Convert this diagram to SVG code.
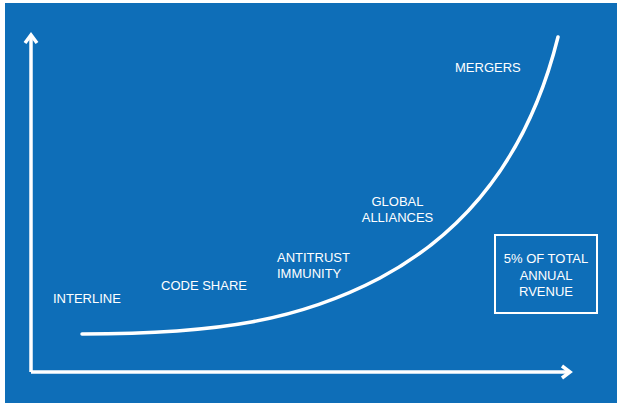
<svg xmlns="http://www.w3.org/2000/svg" width="617" height="403" viewBox="0 0 617 403">
<style>
.lbl{font-family:"Liberation Sans",Arial,sans-serif;font-size:13px;fill:#ffffff;}
.ax{stroke:#ffffff;stroke-width:3.5;fill:none;}
.head{stroke:#ffffff;stroke-width:3.5;fill:none;stroke-linejoin:miter;}
</style>
<rect x="0" y="0" width="617" height="403" fill="#ffffff"/>
<rect x="5" y="3" width="612" height="400" fill="#0e6eb8"/>
<g id="connectors">
<line class="ax" x1="31" y1="372" x2="31" y2="36"/>
<polyline class="head" points="25,43 31,35 37,43"/>
<line class="ax" x1="31" y1="372" x2="568" y2="372"/>
<polyline class="head" points="562,366 570,372 562,378"/>
<path class="ax" d="M82,334 C220,334 300,320 380,278 C470,230 530,150 558,37" stroke-linecap="round"/>
</g>
<g id="interline"><text class="lbl" x="53" y="303">INTERLINE</text></g>
<g id="codeshare"><text class="lbl" x="161" y="290">CODE SHARE</text></g>
<g id="antitrust"><text class="lbl" x="277" y="262">ANTITRUST</text><text class="lbl" x="277" y="278">IMMUNITY</text></g>
<g id="global"><text class="lbl" x="397.5" y="206" text-anchor="middle">GLOBAL</text><text class="lbl" x="397.5" y="222" text-anchor="middle">ALLIANCES</text></g>
<g id="mergers"><text class="lbl" x="455" y="72">MERGERS</text></g>
<g id="revenue">
<rect x="495" y="235" width="102" height="78" fill="none" stroke="#ffffff" stroke-width="2"/>
<text class="lbl" x="546" y="263" text-anchor="middle">5% OF TOTAL</text>
<text class="lbl" x="546" y="280" text-anchor="middle">ANNUAL</text>
<text class="lbl" x="546" y="296" text-anchor="middle">RVENUE</text>
</g>
</svg>
